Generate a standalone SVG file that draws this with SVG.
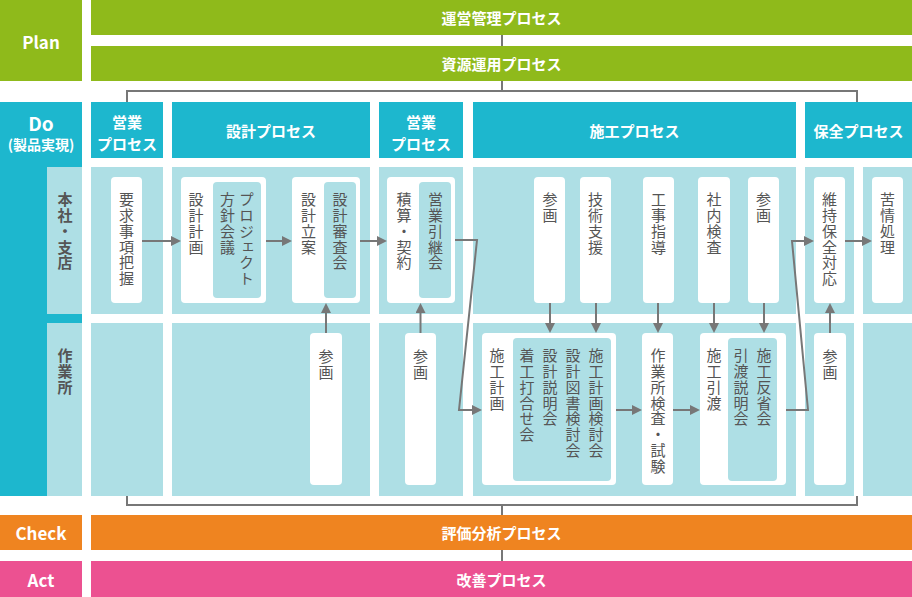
<svg xmlns="http://www.w3.org/2000/svg" width="912" height="597" viewBox="0 0 912 597">
<style>
.g{fill:#8FBA1B}.c{fill:#1DB7CE}.lc{fill:#AEDFE5}.w{fill:#fff}.o{fill:#EF8420}.p{fill:#EC5191}
.ht{font-family:"Noto Sans CJK JP",sans-serif;font-weight:700;fill:#fff;font-size:15px;text-anchor:middle;dominant-baseline:central}
.lt{font-family:"Noto Sans CJK JP",sans-serif;font-weight:700;fill:#fff;font-size:17px;text-anchor:middle;dominant-baseline:central}
.vt{font-family:"Noto Sans CJK JP",sans-serif;font-size:15px;fill:#555;writing-mode:vertical-rl;letter-spacing:0.8px}
.vb{font-family:"Noto Sans CJK JP",sans-serif;font-size:15px;font-weight:700;fill:#555;writing-mode:vertical-rl;letter-spacing:0.8px}
.ln{fill:none;stroke:#777;stroke-width:2}
.ar{fill:none;stroke:#777;stroke-width:2;marker-end:url(#ah)}
</style>
<defs>
<marker id="ah" viewBox="0 0 10 10" refX="1" refY="5" markerWidth="10" markerHeight="10" markerUnits="userSpaceOnUse" orient="auto"><path d="M0,0 L10,5 L0,10 z" fill="#777"/></marker>
</defs>

<g id="plan">
<rect class="g" x="0" y="0" width="82" height="81"/>
<text class="lt" x="41" y="41">Plan</text>
</g>
<g id="unei">
<rect class="g" x="91" y="0" width="821" height="35"/>
<text class="ht" x="501.5" y="17.5">運営管理プロセス</text>
</g>
<g id="shigen">
<rect class="g" x="91" y="46" width="821" height="35"/>
<text class="ht" x="501.5" y="63.5">資源運用プロセス</text>
</g>

<g id="do">
<rect class="c" x="0" y="102" width="82" height="394"/>
<text class="lt" x="41" y="122" style="font-size:19px">Do</text>
<text class="ht" x="41" y="144" style="font-size:14px">(製品実現)</text>
<rect class="lc" x="47" y="167" width="35" height="147"/>
<rect class="lc" x="47" y="323" width="35" height="173"/>
<text class="vb" x="65" y="192">本社・支店</text>
<text class="vb" x="65" y="348">作業所</text>
</g>

<g id="headers">
<rect class="c" x="91" y="102" width="72" height="56"/>
<text class="ht" x="127" y="121">営業</text>
<text class="ht" x="127" y="143">プロセス</text>
<rect class="c" x="172" y="102" width="198" height="56"/>
<text class="ht" x="271" y="130">設計プロセス</text>
<rect class="c" x="379" y="102" width="84" height="56"/>
<text class="ht" x="421" y="121">営業</text>
<text class="ht" x="421" y="143">プロセス</text>
<rect class="c" x="473" y="102" width="323" height="56"/>
<text class="ht" x="634.5" y="130">施工プロセス</text>
<rect class="c" x="805" y="102" width="107" height="56"/>
<text class="ht" x="858.5" y="130">保全プロセス</text>
</g>

<g id="bodies">
<rect class="lc" x="91" y="167" width="72" height="147"/>
<rect class="lc" x="172" y="167" width="198" height="147"/>
<rect class="lc" x="379" y="167" width="84" height="147"/>
<rect class="lc" x="473" y="167" width="323" height="147"/>
<rect class="lc" x="805" y="167" width="49" height="147"/>
<rect class="lc" x="863" y="167" width="49" height="147"/>
<rect class="lc" x="91" y="323" width="72" height="173"/>
<rect class="lc" x="172" y="323" width="198" height="173"/>
<rect class="lc" x="379" y="323" width="84" height="173"/>
<rect class="lc" x="473" y="323" width="323" height="173"/>
<rect class="lc" x="805" y="323" width="49" height="173"/>
<rect class="lc" x="863" y="323" width="49" height="173"/>
</g>

<g id="youkyu"><rect class="w" x="111" y="177" width="31" height="126" rx="4"/><text class="vt" x="126.5" y="192">要求事項把握</text></g>
<g id="sekkei-keikaku"><rect class="w" x="181" y="177" width="85" height="126" rx="4"/><text class="vt" x="196" y="192">設計計画</text>
<rect class="lc" x="213" y="182" width="48" height="116" rx="4"/><text class="vt" x="246.5" y="192">プロジェクト</text><text class="vt" x="227.5" y="192">方針会議</text></g>
<g id="sekkei-ritsuan"><rect class="w" x="292" y="177" width="68" height="126" rx="4"/><text class="vt" x="308.5" y="192">設計立案</text>
<rect class="lc" x="324" y="182" width="32" height="116" rx="4"/><text class="vt" x="340" y="192">設計審査会</text></g>
<g id="sekisan"><rect class="w" x="387" y="177" width="68" height="126" rx="4"/><text class="vt" x="404" y="192">積算・契約</text>
<rect class="lc" x="419" y="182" width="32" height="116" rx="4"/><text class="vt" x="435.5" y="192">営業引継会</text></g>
<g id="sankaku1"><rect class="w" x="534" y="177" width="31" height="126" rx="4"/><text class="vt" x="550" y="192">参画</text></g>
<g id="gijutsu"><rect class="w" x="580" y="177" width="31" height="126" rx="4"/><text class="vt" x="595.5" y="192">技術支援</text></g>
<g id="kouji"><rect class="w" x="643" y="177" width="31" height="126" rx="4"/><text class="vt" x="658.5" y="192">工事指導</text></g>
<g id="shanai"><rect class="w" x="698" y="177" width="32" height="126" rx="4"/><text class="vt" x="714" y="192">社内検査</text></g>
<g id="sankaku2"><rect class="w" x="748" y="177" width="31" height="126" rx="4"/><text class="vt" x="763.5" y="192">参画</text></g>
<g id="iji"><rect class="w" x="814" y="177" width="31" height="126" rx="4"/><text class="vt" x="829.5" y="192">維持保全対応</text></g>
<g id="kujou"><rect class="w" x="872" y="177" width="31" height="126" rx="4"/><text class="vt" x="887.5" y="192">苦情処理</text></g>

<g id="sankaku3"><rect class="w" x="310" y="333" width="32" height="152" rx="4"/><text class="vt" x="326" y="349">参画</text></g>
<g id="sankaku4"><rect class="w" x="405" y="333" width="31" height="152" rx="4"/><text class="vt" x="420.5" y="349">参画</text></g>
<g id="sekou-keikaku"><rect class="w" x="482" y="333" width="134" height="152" rx="4"/><text class="vt" x="497" y="348">施工計画</text>
<rect class="lc" x="513" y="338" width="98" height="143" rx="4"/>
<text class="vt" x="596" y="348">施工計画検討会</text><text class="vt" x="573" y="348">設計図書検討会</text><text class="vt" x="550" y="348">設計説明会</text><text class="vt" x="527" y="348">着工打合せ会</text></g>
<g id="sagyousho"><rect class="w" x="642" y="333" width="31" height="152" rx="4"/><text class="vt" x="658" y="348">作業所検査・試験</text></g>
<g id="hikiwatashi"><rect class="w" x="700" y="333" width="86" height="152" rx="4"/><text class="vt" x="714" y="348">施工引渡</text>
<rect class="lc" x="728" y="338" width="49" height="143" rx="4"/><text class="vt" x="764" y="348">施工反省会</text><text class="vt" x="741" y="348">引渡説明会</text></g>
<g id="sankaku5"><rect class="w" x="814" y="333" width="32" height="152" rx="4"/><text class="vt" x="830" y="349">参画</text></g>

<g id="check">
<rect class="o" x="0" y="515" width="82" height="35"/><text class="lt" x="41" y="532.5">Check</text>
<rect class="o" x="91" y="515" width="821" height="35"/><text class="ht" x="501.5" y="532.5">評価分析プロセス</text>
</g>
<g id="act">
<rect class="p" x="0" y="561" width="82" height="36"/><text class="lt" x="41" y="579">Act</text>
<rect class="p" x="91" y="561" width="821" height="36"/><text class="ht" x="501.5" y="579">改善プロセス</text>
</g>

<g id="connectors">
<path class="ln" d="M502,35 V46 M502,81 V91 M127,102 V91 H857 V102"/>
<path class="ln" d="M127,496 V505 H857 V496 M502,505 V515 M502,550 V561"/>
<path class="ar" d="M142,241 H172"/>
<path class="ar" d="M266,241 H283"/>
<path class="ar" d="M360,241 H378"/>
<path class="ar" d="M455,240 H477 L459,410 H473"/>
<path class="ar" d="M616,410 H633"/>
<path class="ar" d="M673,410 H691"/>
<path class="ar" d="M786,410 H808 L792,241 H805"/>
<path class="ar" d="M845,241 H863"/>
<path class="ar" d="M550,303 V324"/>
<path class="ar" d="M596,303 V324"/>
<path class="ar" d="M658,303 V324"/>
<path class="ar" d="M714,303 V324"/>
<path class="ar" d="M764,303 V324"/>
<path class="ar" d="M326,333 V312"/>
<path class="ar" d="M420.5,333 V312"/>
<path class="ar" d="M830,333 V312"/>
</g>
</svg>
